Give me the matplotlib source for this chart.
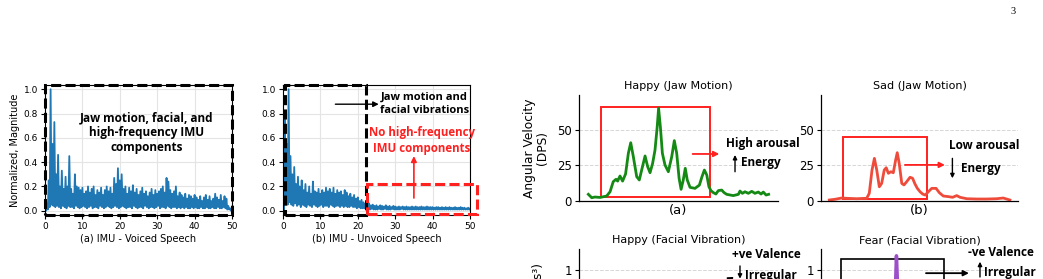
import numpy as np
import matplotlib.pyplot as plt
import matplotlib.transforms as mtransforms
from matplotlib.patches import Rectangle

W, H = 1043, 279

# ---- IMU spectra (0.5 Hz steps, upper / lower envelope) ----
FREQ = np.arange(0, 50.5, 0.5)
VOICED_HI = [
    0.02, 0.06, 0.25, 1.00, 0.55, 0.73, 0.30, 0.46, 0.20, 0.33,
    0.18, 0.28, 0.20, 0.45, 0.18, 0.14, 0.30, 0.20, 0.19, 0.17,
    0.19, 0.14, 0.16, 0.20, 0.15, 0.18, 0.20, 0.13, 0.17, 0.15,
    0.19, 0.13, 0.17, 0.20, 0.16, 0.19, 0.14, 0.27, 0.22, 0.35,
    0.25, 0.30, 0.18, 0.20, 0.14, 0.19, 0.16, 0.21, 0.15, 0.18,
    0.13, 0.16, 0.19, 0.14, 0.16, 0.12, 0.15, 0.18, 0.13, 0.17,
    0.14, 0.16, 0.18, 0.20, 0.15, 0.27, 0.24, 0.17, 0.14, 0.16,
    0.20, 0.12, 0.15, 0.13, 0.11, 0.14, 0.10, 0.13, 0.12, 0.10,
    0.13, 0.11, 0.09, 0.12, 0.08, 0.11, 0.13, 0.09, 0.12, 0.08,
    0.10, 0.14, 0.11, 0.09, 0.13, 0.08, 0.12, 0.10, 0.04, 0.02,
    0.01,
]
VOICED_LO = [
    0.00, 0.01, 0.03, 0.05, 0.04, 0.03, 0.04, 0.03, 0.02, 0.04,
    0.03, 0.02, 0.04, 0.03, 0.03, 0.02, 0.04, 0.03, 0.02, 0.03,
    0.04, 0.03, 0.02, 0.03, 0.04, 0.02, 0.03, 0.03, 0.02, 0.04,
    0.03, 0.02, 0.03, 0.04, 0.03, 0.02, 0.03, 0.04, 0.03, 0.02,
    0.03, 0.04, 0.03, 0.02, 0.03, 0.03, 0.02, 0.04, 0.03, 0.02,
    0.03, 0.03, 0.02, 0.04, 0.03, 0.02, 0.03, 0.03, 0.02, 0.03,
    0.04, 0.02, 0.03, 0.03, 0.02, 0.04, 0.03, 0.02, 0.03, 0.03,
    0.02, 0.03, 0.02, 0.03, 0.02, 0.03, 0.02, 0.02, 0.03, 0.02,
    0.03, 0.02, 0.02, 0.03, 0.02, 0.02, 0.03, 0.02, 0.02, 0.03,
    0.02, 0.02, 0.03, 0.02, 0.02, 0.03, 0.02, 0.01, 0.01, 0.00,
    0.00,
]
UNVOICED_HI = [
    0.95, 0.80, 0.55, 1.00, 0.45, 0.30, 0.36, 0.22, 0.28, 0.20,
    0.25, 0.17, 0.22, 0.15, 0.20, 0.14, 0.24, 0.16, 0.15, 0.18,
    0.14, 0.17, 0.15, 0.19, 0.16, 0.18, 0.15, 0.19, 0.14, 0.17,
    0.15, 0.16, 0.13, 0.17, 0.15, 0.12, 0.14, 0.11, 0.13, 0.10,
    0.11, 0.08, 0.09, 0.07, 0.06, 0.05, 0.06, 0.045, 0.05, 0.04,
    0.045, 0.035, 0.045, 0.04, 0.035, 0.045, 0.035, 0.04, 0.03, 0.04,
    0.035, 0.03, 0.035, 0.03, 0.035, 0.03, 0.035, 0.03, 0.03, 0.035,
    0.03, 0.035, 0.03, 0.03, 0.035, 0.03, 0.03, 0.035, 0.03, 0.03,
    0.03, 0.025, 0.03, 0.03, 0.025, 0.03, 0.025, 0.03, 0.025, 0.03,
    0.025, 0.025, 0.03, 0.025, 0.025, 0.03, 0.025, 0.025, 0.02, 0.025,
    0.02,
]
UNVOICED_LO = [
    0.00, 0.06, 0.05, 0.07, 0.05, 0.04, 0.06, 0.04, 0.05, 0.03,
    0.05, 0.04, 0.03, 0.05, 0.04, 0.03, 0.05, 0.04, 0.03, 0.04,
    0.05, 0.03, 0.04, 0.04, 0.03, 0.05, 0.04, 0.03, 0.04, 0.04,
    0.03, 0.04, 0.03, 0.04, 0.03, 0.03, 0.04, 0.03, 0.03, 0.02,
    0.03, 0.02, 0.02, 0.02, 0.015, 0.015, 0.01, 0.015, 0.01, 0.01,
    0.01, 0.015, 0.01, 0.01, 0.015, 0.01, 0.01, 0.01, 0.015, 0.01,
    0.01, 0.01, 0.01, 0.015, 0.01, 0.01, 0.01, 0.01, 0.01, 0.01,
    0.01, 0.01, 0.01, 0.01, 0.01, 0.01, 0.01, 0.01, 0.01, 0.01,
    0.01, 0.01, 0.01, 0.01, 0.01, 0.01, 0.01, 0.01, 0.01, 0.01,
    0.01, 0.01, 0.01, 0.01, 0.01, 0.01, 0.01, 0.01, 0.01, 0.01,
    0.00,
]

# ---- jaw motion angular velocity (DPS) ----
HAPPY_T = [4.7, 6.4, 8.0, 10.6, 13.9, 15.6, 17.2, 18.6, 19.4, 20.6, 21.9, 23.4,
           24.8, 26.0, 27.3, 29.0, 30.3, 31.7, 33.2, 34.5, 35.7, 37.0, 38.2,
           39.3, 40.0, 40.9, 41.9, 43.2, 44.9, 46.6, 47.9, 49.1, 50.3, 51.3,
           52.4, 53.4, 54.4, 55.8, 58.3, 60.5, 61.8, 63.0, 64.2, 65.3, 66.3,
           67.5, 68.8, 70.0, 71.7, 72.9, 74.2, 77.5, 80.1, 80.9, 82.1, 83.4,
           85.1, 86.8, 88.4, 90.1, 91.5, 92.6, 94.0, 95.3]
HAPPY_V = [4.7, 2.3, 2.8, 2.5, 3.5, 6.5, 13.6, 15.3, 14.0, 17.6, 14.0, 19.0,
           33.6, 41.0, 31.2, 17.1, 14.8, 23.0, 31.7, 24.2, 19.9, 26.5, 35.9,
           52.3, 65.3, 52.0, 33.6, 25.4, 20.6, 31.2, 42.5, 33.6, 16.0, 8.2,
           14.8, 23.0, 14.8, 9.6, 8.9, 11.2, 17.1, 21.8, 18.3, 10.0, 7.3,
           5.9, 4.9, 7.3, 7.7, 5.9, 4.7, 3.8, 4.7, 7.0, 5.4, 6.5,
           5.4, 6.8, 5.4, 6.3, 4.9, 6.3, 4.2, 4.7]
SAD_T = [4.2, 7.1, 10.5, 13.0, 18.1, 23.2, 24.5, 25.9, 27.1, 28.3, 29.6, 30.8,
         32.1, 33.1, 34.2, 35.5, 36.7, 37.9, 38.7, 39.7, 41.0, 42.1, 43.5,
         45.2, 46.5, 47.7, 48.9, 50.3, 51.6, 52.9, 54.5, 56.2, 58.4, 60.1,
         62.1, 64.6, 66.8, 68.9, 70.6, 74.0, 79.0, 84.1, 89.2, 92.5, 95.9]
SAD_V = [0.7, 1.2, 2.1, 1.9, 1.6, 1.9, 5.4, 21.8, 30.0, 21.8, 10.0, 12.4,
         21.8, 23.4, 19.5, 20.6, 19.9, 28.9, 34.0, 26.5, 12.4, 11.3, 13.6,
         16.7, 16.0, 12.0, 8.9, 6.5, 4.9, 4.2, 6.5, 8.9, 8.9, 5.8,
         3.5, 3.1, 2.6, 3.8, 2.6, 1.6, 1.4, 1.4, 1.6, 2.1, 0.7]

# ---- facial vibration (only the top of the lower row is visible) ----
FEAR_T = [37.0, 37.8, 38.3, 38.9, 39.6]
FEAR_V = [0.30, 0.80, 1.17, 0.80, 0.30]

BLUE = "#1f77b4"
RED = "#ff2020"
FONT_B = dict(family="Open Sans", weight="bold")

fig = plt.figure(figsize=(W / 100, H / 100), dpi=100)


def px_axes(left, top, right, bottom):
    return fig.add_axes([left / W, 1 - bottom / H, (right - left) / W, (bottom - top) / H])


def zigzag(x, hi, lo):
    xs = np.column_stack([x, x + 0.25]).ravel()
    ys = np.column_stack([hi, lo]).ravel()
    return xs, ys


def dashed_rect(ax, xy, w, h, color, transform):
    ax.add_patch(Rectangle(xy, w, h, fill=False, edgecolor=color, lw=2.2,
                           ls=(0, (3.3, 1.4)), clip_on=False, zorder=5,
                           transform=transform))


def arrow(ax, start, end, color="black", lw=1.0, size=8):
    ax.annotate("", xy=end, xytext=start,
                arrowprops=dict(arrowstyle="-|>", color=color, lw=lw,
                                mutation_scale=size, shrinkA=0, shrinkB=0))


# ---- left: IMU spectra ----
ax_a = px_axes(45, 85, 232, 215)
ax_b = px_axes(283, 85, 470, 215)
for ax, hi, lo, lab in ((ax_a, VOICED_HI, VOICED_LO, "(a) IMU - Voiced Speech"),
                        (ax_b, UNVOICED_HI, UNVOICED_LO, "(b) IMU - Unvoiced Speech")):
    xs, ys = zigzag(FREQ, np.array(hi), np.array(lo))
    ax.plot(xs, ys, color=BLUE, lw=1.3)
    ax.set_xlim(0, 50)
    ax.set_ylim(-0.035, 1.035)
    ax.set_xticks(range(0, 51, 10))
    ax.set_yticks(np.arange(0, 1.01, 0.2))
    ax.grid(color="#e4e4e4", lw=0.8)
    ax.set_axisbelow(True)
    ax.tick_params(labelsize=6.5, length=3, width=0.8, pad=2)
    for s in ax.spines.values():
        s.set_linewidth(0.8)
    ax.set_xlabel(lab, fontsize=7, labelpad=2)
ax_a.set_ylabel("Normalized, Magnitude", fontsize=7, labelpad=3)

dashed_rect(ax_a, (0, 0), 1, 1, "black", ax_a.transAxes)
ax_a.text(27.2, 0.64, "Jaw motion, facial, and\nhigh-frequency IMU\ncomponents",
          ha="center", va="center", fontsize=8.5, linespacing=1.2, **FONT_B)

blend = mtransforms.blended_transform_factory(ax_b.transData, ax_b.transAxes)
dashed_rect(ax_b, (0.5, 0), 21.7, 1, "black", blend)
dashed_rect(ax_b, (22.5, -0.025), 29.4, 0.245, RED, ax_b.transData)
ax_b.text(37.8, 0.877, "Jaw motion and\nfacial vibrations", ha="center", va="center",
          fontsize=8, linespacing=1.25, zorder=6, **FONT_B)
ax_b.text(37.1, 0.58, "No high-frequency\nIMU components", ha="center", va="center",
          fontsize=8.3, linespacing=1.25, color=RED, **FONT_B)
arrow(ax_b, (14, 0.877), (25.6, 0.877))
arrow(ax_b, (35, 0.105), (35, 0.45), color=RED, lw=1.2)


# ---- right: emotion panels ----
def emo_axes(ax, ylim, yticks):
    ax.set_xlim(0, 100)
    ax.set_ylim(*ylim)
    ax.set_xticks([])
    ax.set_yticks(yticks)
    for k in ("top", "right"):
        ax.spines[k].set_visible(False)
    for k in ("left", "bottom"):
        ax.spines[k].set_linewidth(0.9)
    ax.yaxis.grid(True, ls="--", color="#d6d6d6", lw=0.7)
    ax.set_axisbelow(True)
    ax.tick_params(axis="y", labelsize=8.5, length=3, width=0.8, pad=2)


ax_c = px_axes(579, 95, 778, 201)
ax_d = px_axes(821, 95, 1018, 201)
ax_e = px_axes(579, 249, 778, 355)
ax_f = px_axes(821, 249, 1018, 355)
for ax in (ax_c, ax_d):
    emo_axes(ax, (0, 74.6), [0, 25, 50])
for ax in (ax_e, ax_f):
    emo_axes(ax, (0, 1.25), [0, 1])

# Happy jaw
ax_c.plot(HAPPY_T, HAPPY_V, color="#148a14", lw=2)
ax_c.add_patch(Rectangle((11.1, 3.0), 54.9, 63.4, fill=False, edgecolor=RED, lw=1.4))
arrow(ax_c, (57.1, 33.1), (70.5, 33.1), color=RED, lw=1.3)
ax_c.text(73.7, 40.6, "High arousal", ha="left", va="center", fontsize=8.5, **FONT_B)
ax_c.text(81.2, 27.0, "Energy", ha="left", va="center", fontsize=8.5, **FONT_B)
arrow(ax_c, (78.4, 20.6), (78.4, 32.4), size=6)
ax_c.set_title("Happy (Jaw Motion)", fontsize=8, pad=4)
ax_c.set_xlabel("(a)", fontsize=9.5, labelpad=2)
ax_c.set_ylabel("Angular Velocity\n(DPS)", fontsize=8.8, labelpad=6, linespacing=1.0)

# Sad jaw
ax_d.plot(SAD_T, SAD_V, color="#ee4b3b", lw=2)
ax_d.add_patch(Rectangle((11.0, 1.6), 42.6, 43.7, fill=False, edgecolor=RED, lw=1.4))
arrow(ax_d, (42.6, 25.4), (62.9, 25.4), color=RED, lw=1.3)
ax_d.text(65.1, 39.4, "Low arousal", ha="left", va="center", fontsize=8.5, **FONT_B)
ax_d.text(71.1, 23.0, "Energy", ha="left", va="center", fontsize=8.5, **FONT_B)
arrow(ax_d, (66.7, 30.0), (66.7, 16.0), size=6)
ax_d.set_title("Sad (Jaw Motion)", fontsize=8, pad=4)
ax_d.set_xlabel("(b)", fontsize=9.5, labelpad=2)

# Happy facial
ax_e.set_title("Happy (Facial Vibration)", fontsize=8, pad=4)
ax_e.text(76.9, 1.19, "+ve Valence", ha="left", va="center", fontsize=8.5, **FONT_B)
ax_e.text(83.4, 0.94, "Irregular", ha="left", va="center", fontsize=8.5, **FONT_B)
arrow(ax_e, (80.9, 1.05), (80.9, 0.90), size=6)
arrow(ax_e, (70.0, 0.82), (77.9, 0.92), lw=1.2)

# Fear facial
ax_f.plot(FEAR_T, FEAR_V, color="#9c4fc9", lw=2.5)
ax_f.add_patch(Rectangle((10.0, -0.5), 52.4, 1.632, fill=False, edgecolor="black", lw=1.2))
arrow(ax_f, (53.3, 0.965), (75.1, 0.965), lw=1.3)
ax_f.text(74.6, 1.21, "-ve Valence", ha="left", va="center", fontsize=8.5, **FONT_B)
ax_f.text(82.7, 0.973, "Irregular", ha="left", va="center", fontsize=8.5, **FONT_B)
arrow(ax_f, (80.7, 0.92), (80.7, 1.10), size=6)
ax_f.set_title("Fear (Facial Vibration)", fontsize=8, pad=4)

# lower-row y label, only its top end is on the page
fig.text(537 / W, 1 - 262 / H, "(m/s³)", rotation=90, ha="center", va="top", fontsize=8.8)

# page number
fig.text(1013 / W, 1 - 12 / H, "3", ha="center", va="center", fontsize=7.5,
         family="Liberation Serif")

fig.savefig("out.png", dpi=100)
